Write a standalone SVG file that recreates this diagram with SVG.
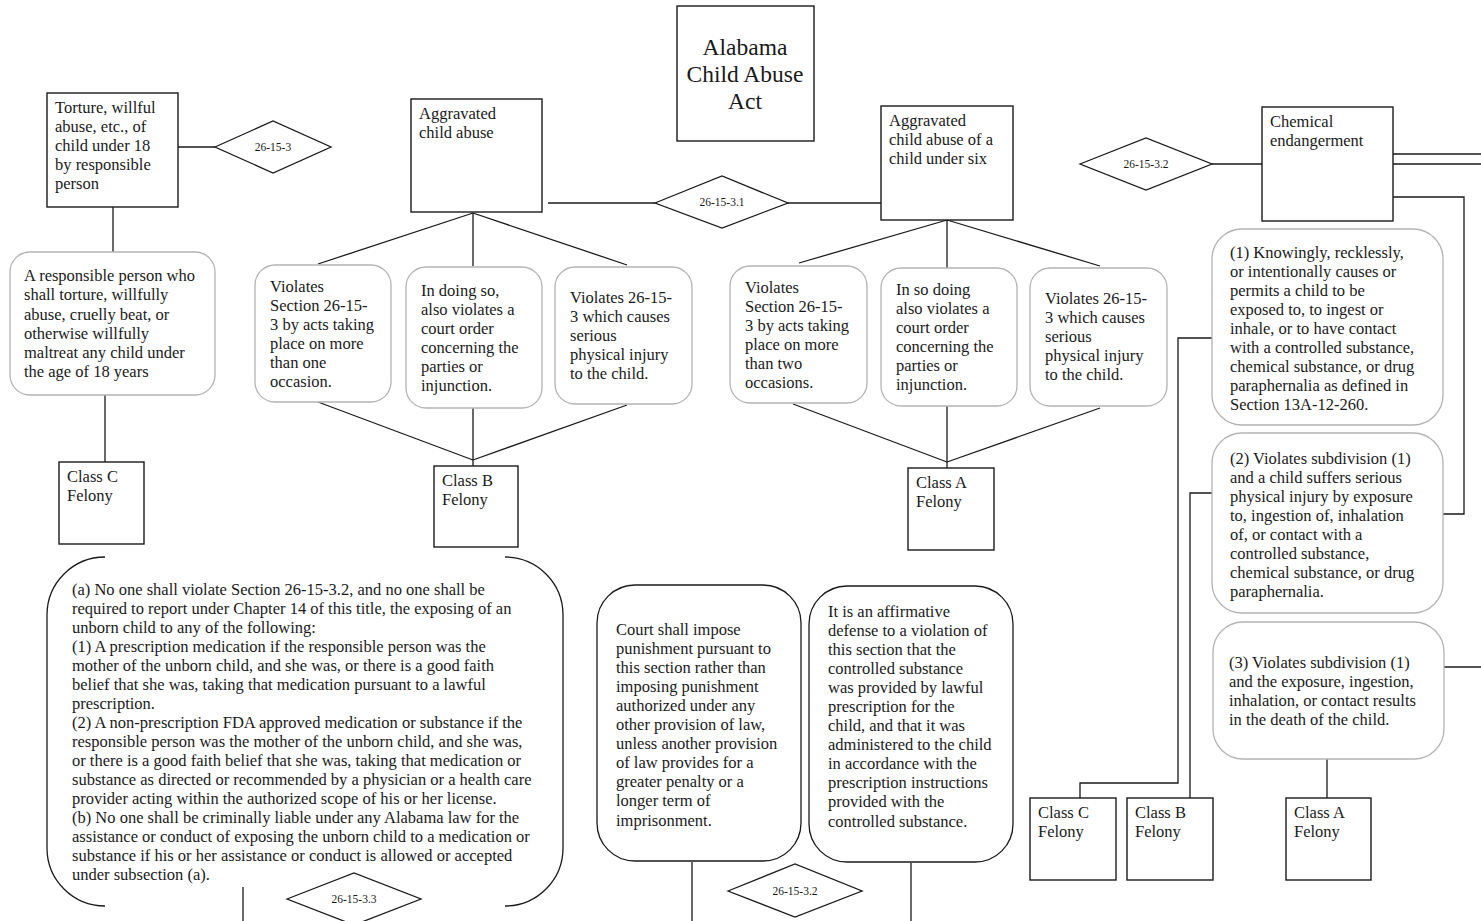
<svg xmlns="http://www.w3.org/2000/svg" width="1481" height="921" viewBox="0 0 1481 921">
  <style>
    text { font-family: "Liberation Serif", "Times New Roman", serif; fill: #1a1a1a; }
    .t { font-size: 16.5px; }
    .title { font-size: 23.5px; }
    .dl { font-size: 11.5px; }
    .box { fill: #fff; stroke: #1a1a1a; stroke-width: 1.4; }
    .soft { fill: #fff; stroke: #b4b4b4; stroke-width: 1.3; }
    .bold { fill: #fff; stroke: #1a1a1a; stroke-width: 1.3; }
    .dia { fill: #fff; stroke: #1a1a1a; stroke-width: 1.3; }
    .c { fill: none; stroke: #1a1a1a; stroke-width: 1.3; }
  </style>
  <rect width="1481" height="921" fill="#fff"/>

  <!-- connectors -->
  <g id="connectors" class="c">
    <line x1="178" y1="147" x2="215" y2="147"/>
    <line x1="113" y1="207" x2="113" y2="252"/>
    <line x1="105" y1="395" x2="105" y2="462"/>
    <line x1="548" y1="203" x2="655" y2="203"/>
    <line x1="788" y1="203" x2="881" y2="203"/>
    <line x1="1212" y1="164" x2="1262" y2="164"/>
    <!-- class B fan -->
    <line x1="473" y1="213" x2="318" y2="264"/>
    <line x1="473" y1="213" x2="473" y2="266"/>
    <line x1="473" y1="213" x2="627" y2="265"/>
    <line x1="318" y1="402" x2="473" y2="460"/>
    <line x1="473" y1="408" x2="473" y2="466"/>
    <line x1="627" y1="405" x2="473" y2="460"/>
    <!-- class A fan -->
    <line x1="947" y1="220" x2="799" y2="263"/>
    <line x1="947" y1="220" x2="947" y2="268"/>
    <line x1="947" y1="220" x2="1100" y2="266"/>
    <line x1="793" y1="404" x2="947" y2="462"/>
    <line x1="947" y1="406" x2="947" y2="468"/>
    <line x1="1100" y1="408" x2="947" y2="462"/>
    <!-- chemical endangerment -->
    <line x1="1393" y1="154" x2="1481" y2="154"/>
    <line x1="1393" y1="164" x2="1481" y2="164"/>
    <path d="M1393,197 H1464 V514 H1443"/>
    <line x1="1444" y1="667" x2="1481" y2="667"/>
    <path d="M1213,338 H1178 V783 H1080 V798"/>
    <path d="M1213,493 H1190 V798"/>
    <line x1="1327" y1="759" x2="1327" y2="798"/>
    <!-- lower section -->
    <line x1="243" y1="887" x2="243" y2="921"/>
    <line x1="692" y1="862" x2="692" y2="921"/>
    <line x1="911" y1="863" x2="911" y2="921"/>
  </g>

  <!-- title -->
  <g id="title">
    <rect class="box" x="677" y="6" width="137" height="135"/>
    <text class="title" text-anchor="middle"><tspan x="745" y="55">Alabama</tspan><tspan x="745" y="82">Child Abuse</tspan><tspan x="745" y="109">Act</tspan></text>
  </g>

  <!-- 26-15-3 -->
  <g id="torture">
    <rect class="box" x="47" y="93" width="131" height="114"/>
    <text class="t"><tspan x="55" y="113">Torture, willful</tspan><tspan x="55" y="132">abuse, etc., of</tspan><tspan x="55" y="151">child under 18</tspan><tspan x="55" y="170">by responsible</tspan><tspan x="55" y="189">person</tspan></text>
  </g>
  <g id="d-26-15-3">
    <polygon class="dia" points="215,147 273,121 331,147 273,173"/>
    <text class="dl" x="273" y="151" text-anchor="middle">26-15-3</text>
  </g>
  <g id="torture-def">
    <rect class="soft" x="10" y="252" width="205" height="143" rx="20"/>
    <text class="t"><tspan x="24" y="281">A responsible person who</tspan><tspan x="24" y="300">shall torture, willfully</tspan><tspan x="24" y="320">abuse, cruelly beat, or</tspan><tspan x="24" y="339">otherwise willfully</tspan><tspan x="24" y="358">maltreat any child under</tspan><tspan x="24" y="377">the age of 18 years</tspan></text>
  </g>
  <g id="class-c-1">
    <rect class="box" x="59" y="462" width="85" height="82"/>
    <text class="t"><tspan x="67" y="482">Class C</tspan><tspan x="67" y="501">Felony</tspan></text>
  </g>

  <!-- 26-15-3.1 -->
  <g id="aggravated">
    <rect class="box" x="411" y="99" width="131" height="113"/>
    <text class="t"><tspan x="419" y="119">Aggravated</tspan><tspan x="419" y="138">child abuse</tspan></text>
  </g>
  <g id="d-26-15-3-1">
    <polygon class="dia" points="655,203 722,176 788,203 722,228"/>
    <text class="dl" x="722" y="206" text-anchor="middle">26-15-3.1</text>
  </g>
  <g id="agg-1">
    <rect class="soft" x="255" y="265" width="136" height="137" rx="20"/>
    <text class="t"><tspan x="270" y="292">Violates</tspan><tspan x="270" y="311">Section 26-15-</tspan><tspan x="270" y="330">3 by acts taking</tspan><tspan x="270" y="349">place on more</tspan><tspan x="270" y="368">than one</tspan><tspan x="270" y="387">occasion.</tspan></text>
  </g>
  <g id="agg-2">
    <rect class="soft" x="406" y="267" width="136" height="141" rx="20"/>
    <text class="t"><tspan x="421" y="296">In doing so,</tspan><tspan x="421" y="315">also violates a</tspan><tspan x="421" y="334">court order</tspan><tspan x="421" y="353">concerning the</tspan><tspan x="421" y="372">parties or</tspan><tspan x="421" y="391">injunction.</tspan></text>
  </g>
  <g id="agg-3">
    <rect class="soft" x="555" y="267" width="137" height="137" rx="20"/>
    <text class="t"><tspan x="570" y="303">Violates 26-15-</tspan><tspan x="570" y="322">3 which causes</tspan><tspan x="570" y="341">serious</tspan><tspan x="570" y="360">physical injury</tspan><tspan x="570" y="379">to the child.</tspan></text>
  </g>
  <g id="class-b-1">
    <rect class="box" x="434" y="466" width="84" height="81"/>
    <text class="t"><tspan x="442" y="486">Class B</tspan><tspan x="442" y="505">Felony</tspan></text>
  </g>

  <!-- aggravated, child under six -->
  <g id="aggravated-six">
    <rect class="box" x="881" y="106" width="132" height="114"/>
    <text class="t"><tspan x="889" y="126">Aggravated</tspan><tspan x="889" y="145">child abuse of a</tspan><tspan x="889" y="164">child under six</tspan></text>
  </g>
  <g id="six-1">
    <rect class="soft" x="730" y="266" width="137" height="137" rx="20"/>
    <text class="t"><tspan x="745" y="293">Violates</tspan><tspan x="745" y="312">Section 26-15-</tspan><tspan x="745" y="331">3 by acts taking</tspan><tspan x="745" y="350">place on more</tspan><tspan x="745" y="369">than two</tspan><tspan x="745" y="388">occasions.</tspan></text>
  </g>
  <g id="six-2">
    <rect class="soft" x="881" y="268" width="136" height="138" rx="20"/>
    <text class="t"><tspan x="896" y="295">In so doing</tspan><tspan x="896" y="314">also violates a</tspan><tspan x="896" y="333">court order</tspan><tspan x="896" y="352">concerning the</tspan><tspan x="896" y="371">parties or</tspan><tspan x="896" y="390">injunction.</tspan></text>
  </g>
  <g id="six-3">
    <rect class="soft" x="1030" y="268" width="137" height="138" rx="20"/>
    <text class="t"><tspan x="1045" y="304">Violates 26-15-</tspan><tspan x="1045" y="323">3 which causes</tspan><tspan x="1045" y="342">serious</tspan><tspan x="1045" y="361">physical injury</tspan><tspan x="1045" y="380">to the child.</tspan></text>
  </g>
  <g id="class-a-1">
    <rect class="box" x="908" y="468" width="86" height="82"/>
    <text class="t"><tspan x="916" y="488">Class A</tspan><tspan x="916" y="507">Felony</tspan></text>
  </g>

  <!-- 26-15-3.2 chemical endangerment -->
  <g id="d-26-15-3-2">
    <polygon class="dia" points="1080,164 1146,138 1212,164 1146,190"/>
    <text class="dl" x="1146" y="168" text-anchor="middle">26-15-3.2</text>
  </g>
  <g id="chemical">
    <rect class="box" x="1262" y="107" width="131" height="114"/>
    <text class="t"><tspan x="1270" y="127">Chemical</tspan><tspan x="1270" y="146">endangerment</tspan></text>
  </g>
  <g id="chem-1">
    <rect class="soft" x="1212" y="229" width="231" height="196" rx="30"/>
    <text class="t"><tspan x="1230" y="258">(1) Knowingly, recklessly,</tspan><tspan x="1230" y="277">or intentionally causes or</tspan><tspan x="1230" y="296">permits a child to be</tspan><tspan x="1230" y="315">exposed to, to ingest or</tspan><tspan x="1230" y="334">inhale, or to have contact</tspan><tspan x="1230" y="353">with a controlled substance,</tspan><tspan x="1230" y="372">chemical substance, or drug</tspan><tspan x="1230" y="391">paraphernalia as defined in</tspan><tspan x="1230" y="410">Section 13A-12-260.</tspan></text>
  </g>
  <g id="chem-2">
    <rect class="soft" x="1212" y="433" width="231" height="180" rx="30"/>
    <text class="t"><tspan x="1230" y="464">(2) Violates subdivision (1)</tspan><tspan x="1230" y="483">and a child suffers serious</tspan><tspan x="1230" y="502">physical injury by exposure</tspan><tspan x="1230" y="521">to, ingestion of, inhalation</tspan><tspan x="1230" y="540">of, or contact with a</tspan><tspan x="1230" y="559">controlled substance,</tspan><tspan x="1230" y="578">chemical substance, or drug</tspan><tspan x="1230" y="597">paraphernalia.</tspan></text>
  </g>
  <g id="chem-3">
    <rect class="soft" x="1213" y="622" width="231" height="137" rx="30"/>
    <text class="t"><tspan x="1229" y="668">(3) Violates subdivision (1)</tspan><tspan x="1229" y="687">and the exposure, ingestion,</tspan><tspan x="1229" y="706">inhalation, or contact results</tspan><tspan x="1229" y="725">in the death of the child.</tspan></text>
  </g>
  <g id="class-c-2">
    <rect class="box" x="1030" y="798" width="86" height="82"/>
    <text class="t"><tspan x="1038" y="818">Class C</tspan><tspan x="1038" y="837">Felony</tspan></text>
  </g>
  <g id="class-b-2">
    <rect class="box" x="1127" y="798" width="86" height="82"/>
    <text class="t"><tspan x="1135" y="818">Class B</tspan><tspan x="1135" y="837">Felony</tspan></text>
  </g>
  <g id="class-a-2">
    <rect class="box" x="1286" y="798" width="85" height="82"/>
    <text class="t"><tspan x="1294" y="818">Class A</tspan><tspan x="1294" y="837">Felony</tspan></text>
  </g>

  <!-- 26-15-3.3 exceptions -->
  <g id="exceptions">
    <path class="c" d="M105,557 A58,58 0 0 0 47,615 V848 A58,58 0 0 0 105,906 M505,906 A58,58 0 0 0 563,848 V615 A58,58 0 0 0 505,557"/>
    <text class="t"><tspan x="72" y="595">(a) No one shall violate Section 26-15-3.2, and no one shall be</tspan><tspan x="72" y="614">required to report under Chapter 14 of this title, the exposing of an</tspan><tspan x="72" y="633">unborn child to any of the following:</tspan><tspan x="72" y="652">(1) A prescription medication if the responsible person was the</tspan><tspan x="72" y="671">mother of the unborn child, and she was, or there is a good faith</tspan><tspan x="72" y="690">belief that she was, taking that medication pursuant to a lawful</tspan><tspan x="72" y="709">prescription.</tspan><tspan x="72" y="728">(2) A non-prescription FDA approved medication or substance if the</tspan><tspan x="72" y="747">responsible person was the mother of the unborn child, and she was,</tspan><tspan x="72" y="766">or there is a good faith belief that she was, taking that medication or</tspan><tspan x="72" y="785">substance as directed or recommended by a physician or a health care</tspan><tspan x="72" y="804">provider acting within the authorized scope of his or her license.</tspan><tspan x="72" y="823">(b) No one shall be criminally liable under any Alabama law for the</tspan><tspan x="72" y="842">assistance or conduct of exposing the unborn child to a medication or</tspan><tspan x="72" y="861">substance if his or her assistance or conduct is allowed or accepted</tspan><tspan x="72" y="880">under subsection (a).</tspan></text>
  </g>
  <g id="d-26-15-3-3">
    <polygon class="dia" points="287,899 354,873 421,899 354,925"/>
    <text class="dl" x="354" y="903" text-anchor="middle">26-15-3.3</text>
  </g>

  <!-- 26-15-3.2 penalties and defense -->
  <g id="punishment">
    <rect class="bold" x="597" y="585" width="204" height="276" rx="38"/>
    <text class="t"><tspan x="616" y="635">Court shall impose</tspan><tspan x="616" y="654">punishment pursuant to</tspan><tspan x="616" y="673">this section rather than</tspan><tspan x="616" y="692">imposing punishment</tspan><tspan x="616" y="711">authorized under any</tspan><tspan x="616" y="730">other provision of law,</tspan><tspan x="616" y="749">unless another provision</tspan><tspan x="616" y="768">of law provides for a</tspan><tspan x="616" y="787">greater penalty or a</tspan><tspan x="616" y="806">longer term of</tspan><tspan x="616" y="826">imprisonment.</tspan></text>
  </g>
  <g id="defense">
    <rect class="bold" x="809" y="586" width="204" height="276" rx="38"/>
    <text class="t"><tspan x="828" y="617">It is an affirmative</tspan><tspan x="828" y="636">defense to a violation of</tspan><tspan x="828" y="655">this section that the</tspan><tspan x="828" y="674">controlled substance</tspan><tspan x="828" y="693">was provided by lawful</tspan><tspan x="828" y="712">prescription for the</tspan><tspan x="828" y="731">child, and that it was</tspan><tspan x="828" y="750">administered to the child</tspan><tspan x="828" y="769">in accordance with the</tspan><tspan x="828" y="788">prescription instructions</tspan><tspan x="828" y="807">provided with the</tspan><tspan x="828" y="827">controlled substance.</tspan></text>
  </g>
  <g id="d-26-15-3-2-b">
    <polygon class="dia" points="728,891 795,864 862,891 795,917"/>
    <text class="dl" x="795" y="895" text-anchor="middle">26-15-3.2</text>
  </g>
</svg>
